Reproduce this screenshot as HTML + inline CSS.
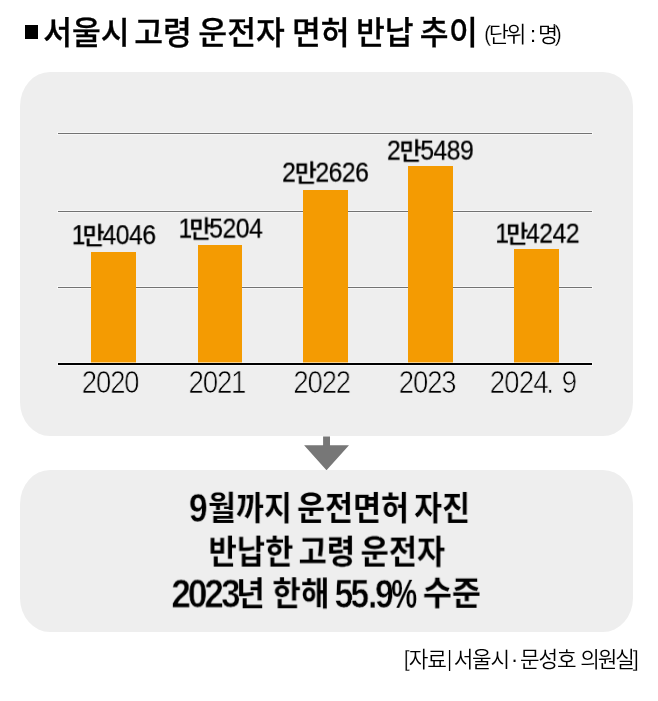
<!DOCTYPE html>
<html lang="ko">
<head>
<meta charset="utf-8">
<title>서울시 고령 운전자 면허 반납 추이</title>
<style>
html,body{margin:0;padding:0;background:#fff;}
body{width:658px;height:701px;position:relative;overflow:hidden;
  font-family:"Liberation Sans","Noto Sans CJK KR",sans-serif;color:#000;}
.t{position:absolute;left:0;top:0;will-change:transform;white-space:nowrap;line-height:1;transform-origin:0 0;margin:0;padding:0;font-weight:400;}
.line{margin:0;padding:0;}
.box{position:absolute;background:#eeeeee;}
#box1{left:20.1px;top:72px;width:612.7px;height:364.4px;border-radius:30px/34px;}
#box2{left:20.1px;top:470px;width:612.7px;height:161.6px;border-radius:30px/34px;}
.grid{position:absolute;left:57.5px;width:534.3px;height:1.1px;background:#727272;box-shadow:0 0 0 1px rgba(255,255,255,0.5);}
#g1{top:133.3px;}
#g2{top:211.1px;}
#g3{top:287.3px;}
#base{position:absolute;left:57.5px;width:534.5px;top:363px;height:1.6px;background:#000;box-shadow:0 0 0 1px rgba(255,255,255,0.55);}
.bar{position:absolute;background:#f49b02;}
#b1{left:91.1px;width:44.9px;top:252px;height:111.5px;}
#b2{left:197.6px;width:44.6px;top:245.2px;height:118.3px;}
#b3{left:303.2px;width:44.5px;top:190px;height:173.5px;}
#b4{left:408px;width:44.6px;top:165.7px;height:197.8px;}
#b5{left:514.3px;width:44.8px;top:248.6px;height:114.9px;}
#sq{position:absolute;left:24.6px;top:25.2px;width:13.7px;height:13.6px;background:#000;}
#arrow{position:absolute;left:300px;top:434px;}
.ttl{font-weight:500;word-spacing:-2.6px;-webkit-text-stroke:0.3px #000;}
.lt{font-weight:350;}
#unit{letter-spacing:-2.6px;word-spacing:1px;}
#src{letter-spacing:-1.1px;word-spacing:0px;}
.val{letter-spacing:-0.5px;-webkit-text-stroke:0.25px #000;}
.val .k{font-size:0.89em;font-weight:500;display:inline-block;transform:scaleX(1.09);transform-origin:0 50%;margin:0 0.6px 0 -0.4px;}
.val .k1{margin:0 0.4px 0 -3px;}
.yr{-webkit-text-stroke:0.7px #eee;letter-spacing:-1.2px;}
#y5{letter-spacing:-0.8px;}
.ln{font-weight:700;word-spacing:-3.4px;-webkit-text-stroke:0.1px #eee;}
.ws2{word-spacing:-1.2px;}
.b{position:relative;top:-1.5px;-webkit-text-stroke:0.3px #fff;}
.bar-sep{display:inline-block;margin:0 -2.3px 0 -3.8px;transform:scaleX(0.75);-webkit-text-stroke:0;}
.dot{margin:0 2.9px 0 1.9px;}
.w3{letter-spacing:-2.1px;}
.col{margin-left:1.7px;}
.cp{margin-left:-1px;}
.d{letter-spacing:-3.5px;-webkit-text-stroke:0.6px #eee;}
.pt{margin:0 1px 0 1.8px;}
.pc{display:inline-block;transform:scaleX(0.86);transform-origin:0 50%;margin-left:0.4px;-webkit-text-stroke:0.2px #eee;}
.val{text-shadow:0 0 1px rgba(255,255,255,0.45);}
.sp{margin-left:0.4px;}
.w-a{margin-left:-1.6px;}
.w-b{margin-left:0.5px;}
.w-c{margin-left:1.1px;}
.w-d{margin-left:0.4px;}
.w-e{margin-left:0px;}
.yd{margin:0 1.7px 0 -1.7px;}
</style>
</head>
<body>
<div id="sq"></div>
<h1 class="t ttl" id="title" style="font-size:31.30px;transform:translate(43.26px,17.97px) scale(1.0000,1)">서울시 <span class="w-a">고령</span> <span class="w-b">운전자</span> <span class="w-c">면허</span> <span class="w-d">반납</span> <span class="w-e">추<span class="sp">이</span></span></h1>
<div class="t lt" id="unit" style="font-size:21.80px;transform:translate(484.01px,24.23px) scale(1.0050,1)"><span class="b">(</span>단위 <span class="col">:</span> 명<span class="b cp">)</span></div>
<div class="box" id="box1"></div>
<div class="grid" id="g1"></div>
<div class="grid" id="g2"></div>
<div class="grid" id="g3"></div>
<div class="bar" id="b1"></div>
<div class="bar" id="b2"></div>
<div class="bar" id="b3"></div>
<div class="bar" id="b4"></div>
<div class="bar" id="b5"></div>
<div id="base"></div>
<div class="t val" id="v1" style="font-size:27.40px;transform:translate(71.72px,221.13px) scale(0.9020,1)">1<span class="k k1">만</span>4046</div>
<div class="t val" id="v2" style="font-size:27.40px;transform:translate(178.51px,214.60px) scale(0.9020,1)">1<span class="k k1">만</span>5204</div>
<div class="t val" id="v3" style="font-size:27.40px;transform:translate(282.09px,158.60px) scale(0.9020,1)">2<span class="k">만</span>2626</div>
<div class="t val" id="v4" style="font-size:27.40px;transform:translate(386.95px,136.60px) scale(0.9020,1)">2<span class="k">만</span>5489</div>
<div class="t val" id="v5" style="font-size:27.40px;transform:translate(495.26px,219.60px) scale(0.9020,1)">1<span class="k k1">만</span>4242</div>
<div class="t yr" id="y1" style="font-size:31.30px;transform:translate(81.76px,367.00px) scale(0.8750,1)">2020</div>
<div class="t yr" id="y2" style="font-size:31.30px;transform:translate(188.58px,367.00px) scale(0.8750,1)">2021</div>
<div class="t yr" id="y3" style="font-size:31.30px;transform:translate(293.29px,367.00px) scale(0.8750,1)">2022</div>
<div class="t yr" id="y4" style="font-size:31.30px;transform:translate(398.79px,367.00px) scale(0.8750,1)">2023</div>
<div class="t yr" id="y5" style="font-size:31.30px;transform:translate(489.78px,367.00px) scale(0.8750,1)">2024<span class="yd">.</span> 9</div>
<svg id="arrow" width="54" height="38" viewBox="300 434 54 38">
  <path d="M323.1 436.6 H330 V445.3 H349 L326.5 470.2 L304.1 445.3 H323.1 Z" fill="#777"/>
</svg>
<div class="box" id="box2"></div>
<p class="line"><span class="t ln d" id="l1d" style="font-size:41.00px;transform:translate(188.82px,487.85px) scale(0.8285,1)">9</span><span class="t ln" id="l1k" style="font-size:32.60px;transform:translate(207.97px,492.93px) scale(0.9328,1)">월까지 운전면허 자진</span></p>
<p class="line"><span class="t ln" id="l2k" style="font-size:32.60px;transform:translate(208.45px,536.61px) scale(0.9431,1)">반납한 고령 운전자</span></p>
<p class="line"><span class="t ln d" id="l3d1" style="font-size:41.00px;transform:translate(171.32px,573.44px) scale(0.8574,1)">2023</span><span class="t ln ws2" id="l3k1" style="font-size:32.60px;transform:translate(236.28px,578.21px) scale(0.9534,1)">년 한해</span> <span class="t ln d" id="l3d2" style="font-size:41.00px;transform:translate(334.49px,573.76px) scale(0.8237,1)">55<span class="pt">.</span>9<span class="pc">%</span></span> <span class="t ln" id="l3k2" style="font-size:32.60px;transform:translate(422.82px,577.79px) scale(0.9688,1)">수준</span></p>
<div class="t lt" id="src" style="font-size:21.30px;transform:translate(403.83px,650.22px) scale(1.0000,1)"><span class="b">[</span>자료 <span class="b bar-sep">|</span> 서울시<span class="dot">·</span>문성호 <span class="w3">의원실<span class="b">]</span></span></div>
</body>
</html>
